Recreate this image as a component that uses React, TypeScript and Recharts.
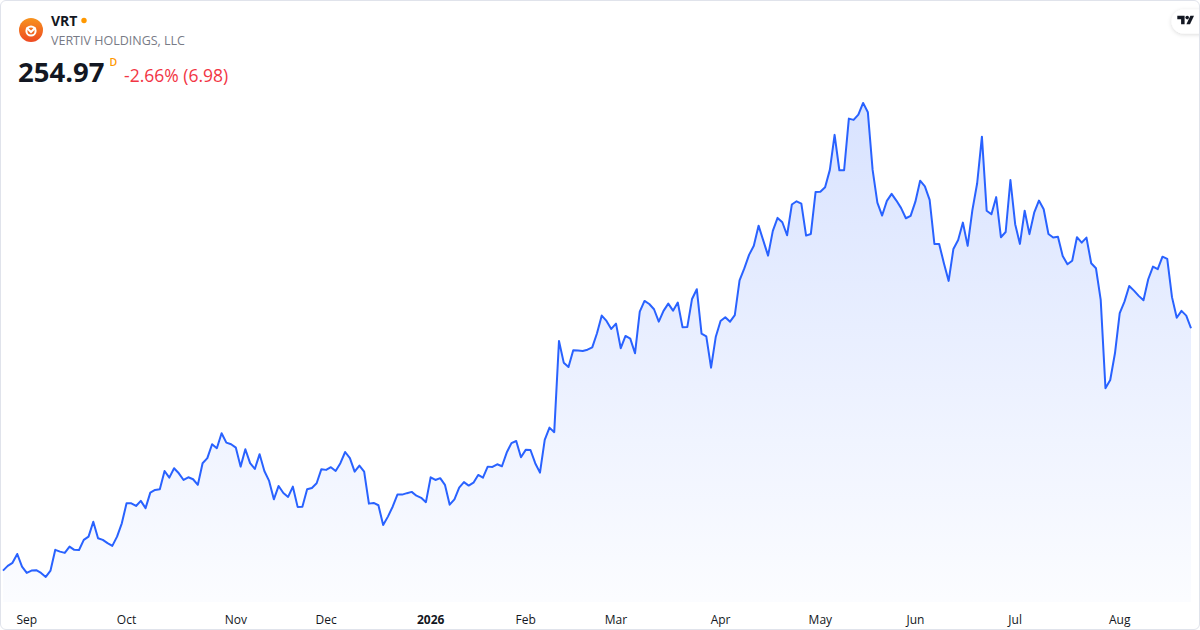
import { AreaChart, Area, XAxis, YAxis } from 'recharts';

// VRT daily closes, late Aug 2025 -> Aug 2026
const prices = [
  120.7, 123.3, 125.0, 129.9, 122.9, 119.4, 120.7, 120.9, 119.4, 117.2,
  120.7, 132.2, 131.2, 130.5, 134.0, 132.2, 132.1, 137.7, 139.5, 147.8,
  138.6, 137.7, 135.9, 134.4, 139.5, 146.9, 158.0, 158.0, 156.5, 159.3,
  155.3, 163.9, 165.4, 165.8, 175.9, 172.2, 177.4, 174.6, 170.9, 172.4,
  171.3, 168.2, 180.2, 183.0, 190.7, 188.5, 196.8, 191.6, 190.7, 188.8,
  178.3, 187.9, 180.2, 177.0, 185.2, 175.9, 170.4, 160.2, 167.6, 163.7,
  161.5, 167.2, 156.0, 156.1, 165.8, 166.5, 169.1, 176.9, 176.5, 178.0,
  175.9, 180.2, 186.4, 183.0, 175.5, 178.9, 175.5, 157.8, 158.2, 156.9,
  146.0, 150.6, 156.1, 162.8, 162.8, 163.6, 164.3, 162.2, 161.0, 158.6,
  172.4, 170.9, 171.9, 168.2, 157.2, 160.2, 166.7, 169.7, 167.8, 169.4,
  173.7, 172.2, 178.3, 178.1, 179.6, 178.5, 186.1, 191.3, 192.5, 183.5,
  187.6, 187.5, 180.2, 175.0, 193.1, 199.9, 197.4, 247.9, 235.9, 233.5,
  242.8, 242.6, 242.4, 243.1, 244.4, 252.2, 262.0, 259.0, 254.6, 257.5,
  243.9, 250.7, 249.2, 241.1, 264.2, 270.1, 268.4, 265.5, 258.6, 264.6,
  268.6, 264.7, 269.2, 255.5, 255.6, 271.2, 276.6, 252.0, 250.5, 233.1,
  250.3, 259.0, 261.1, 258.6, 262.2, 281.5, 288.1, 295.6, 300.7, 311.8,
  303.5, 295.2, 308.9, 316.1, 313.7, 306.5, 323.5, 325.3, 324.0, 306.3,
  307.2, 330.5, 330.6, 333.1, 342.7, 362.1, 342.5, 342.5, 371.1, 370.4,
  373.3, 379.8, 374.6, 342.7, 324.6, 317.4, 325.5, 329.4, 325.7, 321.5,
  315.9, 317.2, 325.1, 336.7, 333.6, 326.1, 301.7, 301.7, 291.0, 281.2,
  298.9, 303.9, 313.5, 300.6, 320.5, 335.3, 361.1, 320.1, 318.1, 327.6,
  305.4, 308.3, 337.1, 312.6, 301.7, 320.1, 307.1, 319.0, 325.7, 320.9,
  307.2, 305.2, 305.7, 295.0, 290.4, 292.4, 305.4, 302.4, 305.2, 291.0,
  288.2, 270.7, 221.7, 226.3, 241.1, 263.3, 269.7, 278.4, 275.8, 272.9,
  270.5, 282.1, 289.1, 287.7, 294.6, 293.4, 272.2, 260.8, 264.6, 261.95,
  254.97,
];

// first trading day of each month (index into prices)
const monthTicks = [5, 26, 49, 68, 90, 110, 129, 151, 172, 192, 213, 235];
const monthLabels = ['Sep', 'Oct', 'Nov', 'Dec', '2026', 'Feb', 'Mar', 'Apr', 'May', 'Jun', 'Jul', 'Aug'];

const symbol = 'VRT';
const company = 'VERTIV HOLDINGS, LLC';
const lastPrice = '254.97';
const change = '-2.66% (6.98)';

const data = prices.map((price, i) => ({ i, price }));

const FONT = '"Open Sans", "Noto Sans", sans-serif';

const MonthTick = (props: any) => {
  const { x, y, payload } = props;
  const idx = monthTicks.indexOf(payload.value);
  const label = monthLabels[idx] ?? '';
  const isYear = /^\d{4}$/.test(label);
  return (
    <text
      x={x}
      y={y}
      dy="0.71em"
      textAnchor="middle"
      fontFamily={FONT}
      fontSize={12}
      fontWeight={isYear ? 700 : 400}
      fill="#131722"
    >
      {label}
    </text>
  );
};

export default function App() {
  return (
    <div
      style={{
        position: 'absolute',
        top: 0,
        left: 0,
        width: 1200,
        height: 630,
        background: '#fff',
        overflow: 'hidden',
        fontFamily: FONT,
      }}
    >
      <AreaChart
        width={1200}
        height={630}
        data={data}
        margin={{ top: 80, right: 9, bottom: 0, left: 3 }}
      >
        <defs>
          <linearGradient id="vrtFill" x1="0" y1="0" x2="0" y2="1">
            <stop offset="0%" stopColor="#2962FF" stopOpacity={0.3} />
            <stop offset="100%" stopColor="#2962FF" stopOpacity={0.03} />
          </linearGradient>
        </defs>
        <XAxis
          dataKey="i"
          type="number"
          domain={[0, prices.length - 1]}
          ticks={monthTicks}
          interval={0}
          axisLine={false}
          tickLine={false}
          tickSize={0}
          tickMargin={13}
          height={28}
          tick={<MonthTick />}
        />
        <YAxis hide type="number" domain={[103.3, 392.5]} />
        <Area
          type="linear"
          dataKey="price"
          stroke="#2962FF"
          strokeWidth={2}
          strokeLinejoin="round"
          fill="url(#vrtFill)"
          dot={false}
          activeDot={false}
          isAnimationActive={false}
        />
      </AreaChart>

      {/* header: logo, ticker, price */}
      <svg width={1200} height={100} style={{ position: 'absolute', top: 0, left: 0 }}>
        <defs>
          <linearGradient id="vrtLogo" x1="0" y1="0" x2="0" y2="1">
            <stop offset="0%" stopColor="#F7931E" />
            <stop offset="100%" stopColor="#EE4A23" />
          </linearGradient>
          <filter id="pillShadow" x="-30%" y="-50%" width="160%" height="200%">
            <feDropShadow dx="0" dy="1" stdDeviation="2" floodColor="#000" floodOpacity="0.15" />
          </filter>
        </defs>
        <circle cx={31} cy={30} r={12} fill="url(#vrtLogo)" />
        <circle cx={31} cy={31} r={4.6} fill="none" stroke="#fff" strokeWidth={2} />
        <path d="M26.5 27.5 L31 32 L35.5 27.5" fill="none" stroke="#fff" strokeWidth={2} />

        <text x={51} y={26} fontFamily={FONT} fontSize={14} fontWeight={700} fill="#131722">
          {symbol}
        </text>
        <circle cx={84} cy={20.5} r={2.7} fill="#FF9800" />
        <text x={51} y={45} fontFamily={FONT} fontSize={12.5} fill="#787B86">
          {company}
        </text>
        <text x={18} y={82} fontFamily={FONT} fontSize={27.5} fontWeight={700} fill="#131722">
          {lastPrice}
        </text>
        <text x={109.5} y={65.5} fontFamily={FONT} fontSize={10.5} fontWeight={600} fill="#FF9800">
          D
        </text>
        <text x={124} y={81.5} fontFamily={FONT} fontSize={17.5} fill="#F23645">
          {change}
        </text>

        {/* TradingView badge */}
        <rect x={1171.5} y={9.5} width={44} height={24} rx={12} fill="#fff" filter="url(#pillShadow)" />
        <path d="M1177.3 15.7 H1184.6 V24.3 H1181.1 V19.2 H1177.3 Z" fill="#131722" />
        <circle cx={1187.2} cy={17.6} r={1.8} fill="#131722" />
        <path d="M1186.4 24.3 H1190 L1194 15.7 H1190.4 Z" fill="#131722" />
      </svg>

      {/* card border */}
      <div
        style={{
          position: 'absolute',
          inset: 0,
          border: '1px solid #E0E3EB',
          borderRadius: 6,
          pointerEvents: 'none',
        }}
      />
    </div>
  );
}
